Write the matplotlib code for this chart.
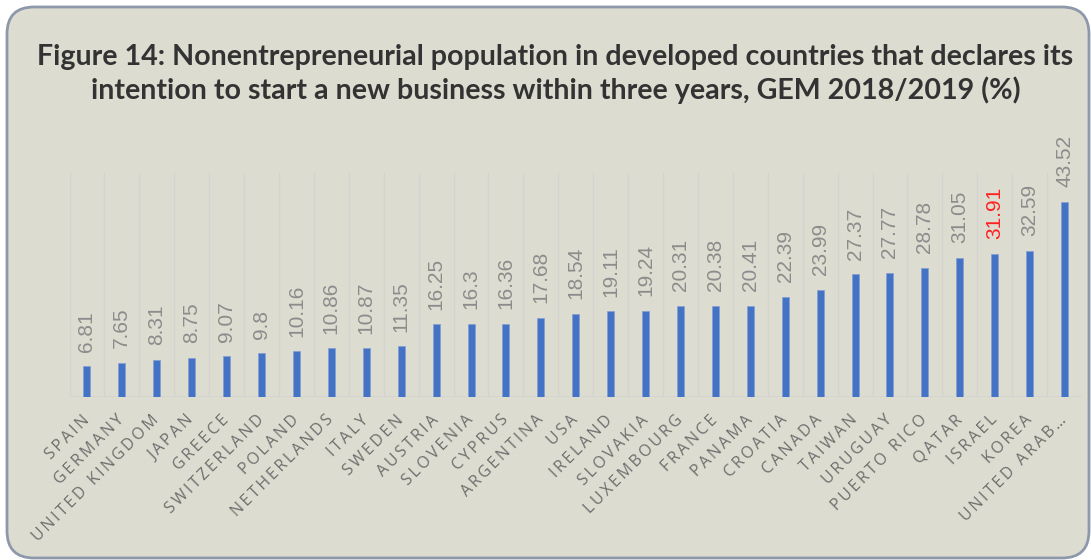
import matplotlib

matplotlib.use("Agg")
import matplotlib.pyplot as plt
import numpy as np
from matplotlib.patches import FancyBboxPatch

countries = [
    "SPAIN", "GERMANY", "UNITED KINGDOM", "JAPAN", "GREECE", "SWITZERLAND",
    "POLAND", "NETHERLANDS", "ITALY", "SWEDEN", "AUSTRIA", "SLOVENIA", "CYPRUS",
    "ARGENTINA", "USA", "IRELAND", "SLOVAKIA", "LUXEMBOURG", "FRANCE", "PANAMA",
    "CROATIA", "CANADA", "TAIWAN", "URUGUAY", "PUERTO RICO", "QATAR", "ISRAEL",
    "KOREA", "UNITED ARAB…",
]
values = [
    6.81, 7.65, 8.31, 8.75, 9.07, 9.8, 10.16, 10.86, 10.87, 11.35, 16.25, 16.3,
    16.36, 17.68, 18.54, 19.11, 19.24, 20.31, 20.38, 20.41, 22.39, 23.99, 27.37,
    27.77, 28.78, 31.05, 31.91, 32.59, 43.52,
]
value_labels = [
    "6.81", "7.65", "8.31", "8.75", "9.07", "9.8", "10.16", "10.86", "10.87",
    "11.35", "16.25", "16.3", "16.36", "17.68", "18.54", "19.11", "19.24", "20.31",
    "20.38", "20.41", "22.39", "23.99", "27.37", "27.77", "28.78", "31.05", "31.91",
    "32.59", "43.52",
]
highlight = "ISRAEL"

W, H = 1091, 560
BG = "#dddcd0"
BAR = "#4472c4"
GRID = "#d3d3d0"

fig = plt.figure(figsize=(W / 100, H / 100), dpi=100, facecolor="white")

# rounded panel behind everything, drawn in pixel coords
bg = fig.add_axes([0, 0, 1, 1], zorder=-1)
bg.set_xlim(0, W)
bg.set_ylim(H, 0)
bg.axis("off")
bg.add_patch(FancyBboxPatch((7, 7), 1082, 551, boxstyle="round,pad=0,rounding_size=27",
                            facecolor=BG, edgecolor="#8d99aa", linewidth=2))

title_kw = dict(ha="center", va="baseline", fontsize=20.6, fontweight="bold",
                color="#333333", family="Lato")
fig.text(0.509, 1 - 65 / H,
         "Figure 14: Nonentrepreneurial population in developed countries that declares its", **title_kw)
fig.text(0.509, 1 - 99 / H,
         "intention to start a new business within three years, GEM 2018/2019 (%)", **title_kw)

ax = fig.add_axes([69.5 / W, 1 - 397 / H, (1082 - 69.5) / W, (397 - 173) / H])
ax.patch.set_alpha(0)
x = np.arange(len(countries))
ax.bar(x, values, width=0.2, color=BAR, edgecolor="#7f9fd6", linewidth=0.5, zorder=3)
ax.set_xlim(-0.5, len(countries) - 0.5)
ax.set_ylim(0, 50)
for b in np.arange(len(countries) + 1) - 0.5:
    ax.axvline(b, color=GRID, linewidth=1, zorder=1)
ax.axhline(0, color=GRID, linewidth=1.2, zorder=2)
for s in ax.spines.values():
    s.set_visible(False)
ax.set_yticks([])

for xi, v, lab, c in zip(x, values, value_labels, countries):
    ax.annotate(lab, (xi, v), xytext=(0, 10.5), textcoords="offset points",
                rotation=90, ha="center", va="bottom", fontsize=15,
                family="Liberation Sans",
                color="#ff2020" if c == highlight else "#8c8c8c")

# letter-spaced caps, like the original
spaced = ["\u2009".join(c) for c in countries]
ax.set_xticks(x)
ax.set_xticklabels(spaced, rotation=45, ha="right", va="center", rotation_mode="anchor",
                   fontsize=11.5, family=["Open Sans", "DejaVu Sans"], color="#6e6e6e")
ax.tick_params(axis="x", length=0, pad=15)

fig.savefig("out.png", dpi=100, facecolor="white")
